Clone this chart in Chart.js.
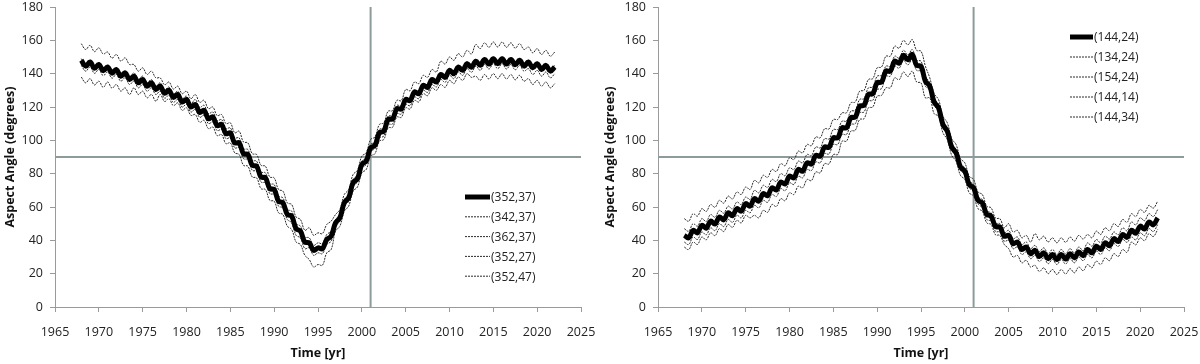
<!DOCTYPE html>
<html>
<head>
<meta charset="utf-8">
<script src="https://cdn.jsdelivr.net/npm/chart.js@4.4.1/dist/chart.umd.min.js"></script>
<style>
    html, body { margin: 0; padding: 0; background: #fff; }
    #wrap { position: relative; width: 1200px; height: 364px; }
    .panel { position: absolute; top: 0; width: 600px; height: 364px; }
</style>
</head>
<body>
<div id="wrap">
    <div class="panel" style="left:0"><canvas id="leftChart" width="600" height="364"></canvas></div>
    <div class="panel" style="left:600px"><canvas id="rightChart" width="600" height="364"></canvas></div>
</div>
<script>
// --- data (half-year samples, 1968 - 2022) ---
const years = [
    1968, 1968.5, 1969, 1969.5, 1970, 1970.5, 1971, 1971.5, 1972, 1972.5,
    1973, 1973.5, 1974, 1974.5, 1975, 1975.5, 1976, 1976.5, 1977, 1977.5,
    1978, 1978.5, 1979, 1979.5, 1980, 1980.5, 1981, 1981.5, 1982, 1982.5,
    1983, 1983.5, 1984, 1984.5, 1985, 1985.5, 1986, 1986.5, 1987, 1987.5,
    1988, 1988.5, 1989, 1989.5, 1990, 1990.5, 1991, 1991.5, 1992, 1992.5,
    1993, 1993.5, 1994, 1994.5, 1995, 1995.5, 1996, 1996.5, 1997, 1997.5,
    1998, 1998.5, 1999, 1999.5, 2000, 2000.5, 2001, 2001.5, 2002, 2002.5,
    2003, 2003.5, 2004, 2004.5, 2005, 2005.5, 2006, 2006.5, 2007, 2007.5,
    2008, 2008.5, 2009, 2009.5, 2010, 2010.5, 2011, 2011.5, 2012, 2012.5,
    2013, 2013.5, 2014, 2014.5, 2015, 2015.5, 2016, 2016.5, 2017, 2017.5,
    2018, 2018.5, 2019, 2019.5, 2020, 2020.5, 2021, 2021.5, 2022
];

// left panel
const left352_37 = [
    148, 144.5, 147, 143.2, 145.5, 141.8, 144, 140.3, 142.5, 138.5,
    140.5, 136.5, 138.5, 134.5, 136.5, 132.5, 134.5, 130.5, 132.5, 128.3,
    130, 125.8, 127.5, 123, 124.5, 120, 121.5, 116.8, 118, 113,
    114, 108.8, 109.5, 104, 104.5, 98.5, 98.5, 92, 91.5, 85,
    84.5, 78, 77.5, 71, 70.5, 63.5, 62.5, 55.5, 54.5, 47,
    45.5, 39, 38.5, 34, 35.5, 35, 40.5, 42.5, 50.5, 53.5,
    62.5, 65.5, 74.5, 77, 85.5, 87.5, 95.5, 97, 104.5, 105.5,
    112.5, 112.8, 119, 118.8, 124.5, 123.8, 129, 128, 133, 131.8,
    136.5, 135, 139.5, 137.8, 142, 140, 144, 142, 146, 143.8,
    147.5, 145, 148.5, 145.8, 149, 146, 149, 145.8, 148.5, 145.3,
    148, 144.5, 147, 143.5, 146, 142.5, 145, 141.5, 144
];
const left342_37 = [
    149, 145.5, 148, 144.2, 146.5, 142.8, 145, 141.3, 143.5, 139.5,
    141.5, 137.5, 140.5, 136.5, 138.5, 134.5, 136.5, 132.5, 134.5, 130.3,
    132, 127.8, 129.5, 125, 126.5, 122, 124.5, 119.8, 121, 116,
    117, 111.8, 112.5, 107, 107.5, 101.5, 101.5, 95, 94.5, 88,
    87.5, 81, 80.5, 74, 73.5, 66.5, 65.5, 58.5, 57.5, 50,
    48.5, 42, 41.5, 37, 38.5, 38, 43.5, 45.5, 52.5, 55.5,
    64.5, 67.5, 76.5, 79, 87.5, 89.5, 97.5, 99, 106.5, 107.5,
    114.5, 114.8, 121, 120.8, 125.5, 124.8, 130, 129, 134, 132.8,
    137.5, 136, 140.5, 138.8, 143, 141, 145, 143, 147, 144.8,
    148.5, 146, 149.5, 146.8, 150, 147, 150, 146.8, 149.5, 146.3,
    149, 145.5, 148, 144.5, 147, 143.5, 146, 142.5, 145
];
const left362_37 = [
    145, 141.5, 144, 140.2, 142.5, 138.8, 141, 137.3, 139.5, 135.5,
    137.5, 133.5, 135.5, 131.5, 133.5, 129.5, 131.5, 127.5, 129.5, 125.3,
    127, 122.8, 124.5, 120, 121.5, 117, 118.5, 113.8, 115, 110,
    111, 105.8, 106.5, 101, 101.5, 95.5, 95.5, 89, 88.5, 82,
    81.5, 75, 74.5, 68, 67.5, 60.5, 59.5, 52.5, 50.5, 43,
    41.5, 35, 35.5, 31, 32.5, 32, 37.5, 39.5, 48.5, 51.5,
    60.5, 63.5, 72.5, 75, 83.5, 85.5, 93.5, 95, 101.5, 102.5,
    109.5, 109.8, 116, 115.8, 121.5, 120.8, 126, 125, 130, 128.8,
    133.5, 132, 136.5, 134.8, 139, 137, 141, 139, 143, 140.8,
    144.5, 142, 145.5, 142.8, 146, 143, 146, 142.8, 145.5, 142.3,
    145, 141.5, 143, 139.5, 142, 138.5, 141, 137.5, 140
];
const left352_27 = [
    138, 134.5, 137, 133.2, 135.5, 131.8, 135, 131.3, 133.5, 129.5,
    131.5, 127.5, 131.5, 127.5, 129.5, 125.5, 127.5, 123.5, 127.5, 123.3,
    125, 120.8, 122.5, 118, 119.5, 115, 115.5, 110.8, 112, 107,
    108, 102.8, 103.5, 98, 98.5, 92.5, 91.5, 85, 84.5, 78,
    77.5, 71, 70.5, 64, 63.5, 56.5, 55.5, 48.5, 46.5, 39,
    37.5, 31, 28.5, 24, 25.5, 25, 32.5, 34.5, 45.5, 48.5,
    57.5, 60.5, 69.5, 72, 80.5, 82.5, 90.5, 92, 99.5, 100.5,
    107.5, 107.8, 114, 113.8, 119.5, 118.8, 124, 123, 128, 126.8,
    131.5, 130, 133.5, 131.8, 136, 134, 138, 136, 140, 137.8,
    138.5, 136, 139.5, 136.8, 140, 137, 140, 136.8, 139.5, 136.3,
    139, 135.5, 137, 133.5, 136, 132.5, 135, 131.5, 134
];
const left352_47 = [
    158, 154.5, 157, 153.2, 155.5, 151.8, 153, 149.3, 151.5, 147.5,
    149.5, 145.5, 145.5, 141.5, 143.5, 139.5, 141.5, 137.5, 137.5, 133.3,
    135, 130.8, 132.5, 128, 129.5, 125, 127.5, 122.8, 124, 119,
    120, 114.8, 115.5, 110, 110.5, 104.5, 105.5, 99, 98.5, 92,
    91.5, 85, 84.5, 78, 77.5, 70.5, 69.5, 62.5, 61.5, 54,
    52.5, 46, 47.5, 43, 44.5, 44, 49.5, 51.5, 55.5, 58.5,
    67.5, 70.5, 79.5, 82, 90.5, 92.5, 100.5, 102, 109.5, 110.5,
    117.5, 117.8, 124, 123.8, 130.5, 129.8, 135, 134, 139, 137.8,
    142.5, 141, 147.5, 145.8, 150, 148, 152, 150, 154, 151.8,
    157.5, 155, 158.5, 155.8, 159, 156, 159, 155.8, 158.5, 155.3,
    158, 154.5, 156, 152.5, 155, 151.5, 154, 150.5, 153
];

// right panel
const right144_24 = [
    43, 41.5, 46, 44.5, 49, 47.3, 51.5, 49.8, 54, 52.3,
    56.5, 54.8, 59, 57.5, 62, 60.5, 65, 63.5, 68, 66.8,
    71.5, 70.3, 75, 73.8, 78.5, 77.5, 82.5, 81.5, 86.5, 85.8,
    91, 90.5, 96, 95.8, 101.5, 101.5, 107.5, 107.5, 113.5, 114,
    120.5, 121, 127.5, 128, 134.5, 135, 141.5, 141.5, 147.5, 146.3,
    151, 148.3, 151.5, 145, 144.5, 135.5, 132.5, 123, 119.5, 109.5,
    105.5, 96, 92.5, 84, 81.5, 73.5, 71.5, 64, 62.5, 55.5,
    54.5, 48.3, 48, 42.5, 43, 38, 39, 34.5, 36, 32,
    34, 30.3, 32.5, 29, 31.5, 28.5, 31.5, 28.8, 32, 29.5,
    33, 30.8, 34.5, 32.5, 36.5, 34.5, 38.5, 36.8, 41, 39.3,
    43.5, 41.8, 46, 44.3, 48.5, 46.8, 51, 49.3, 53.5
];
const right134_24 = [
    47, 45.5, 50, 48.5, 53, 51.3, 55.5, 53.8, 58, 56.3,
    60.5, 58.8, 63, 61.5, 66, 64.5, 70, 68.5, 73, 71.8,
    76.5, 75.3, 80, 78.8, 83.5, 82.5, 87.5, 86.5, 91.5, 90.8,
    96, 95.5, 101, 100.8, 106.5, 106.5, 111.5, 111.5, 117.5, 118,
    124.5, 125, 131.5, 132, 138.5, 139, 144.5, 144.5, 150.5, 149.3,
    154, 151.3, 154.5, 148, 147.5, 138.5, 134.5, 125, 121.5, 111.5,
    107.5, 98, 94.5, 86, 83.5, 75.5, 73.5, 66, 64.5, 57.5,
    56.5, 50.3, 50, 44.5, 46, 41, 42, 37.5, 39, 35,
    37, 33.3, 35.5, 32, 34.5, 31.5, 34.5, 31.8, 35, 32.5,
    36, 33.8, 38.5, 36.5, 40.5, 38.5, 42.5, 40.8, 45, 43.3,
    47.5, 45.8, 51, 49.3, 53.5, 51.8, 56, 54.3, 58.5
];
const right154_24 = [
    39, 37.5, 42, 40.5, 45, 43.3, 47.5, 45.8, 50, 48.3,
    52.5, 50.8, 55, 53.5, 58, 56.5, 61, 59.5, 64, 62.8,
    67.5, 66.3, 71, 69.8, 74.5, 73.5, 78.5, 77.5, 82.5, 81.8,
    87, 86.5, 92, 91.8, 97.5, 97.5, 103.5, 103.5, 109.5, 110,
    116.5, 117, 123.5, 124, 130.5, 131, 138.5, 138.5, 144.5, 143.3,
    148, 145.3, 148.5, 142, 141.5, 132.5, 130.5, 121, 117.5, 107.5,
    103.5, 94, 90.5, 82, 79.5, 71.5, 69.5, 62, 59.5, 52.5,
    51.5, 45.3, 45, 39.5, 40, 35, 36, 31.5, 33, 29,
    31, 27.3, 29.5, 26, 28.5, 25.5, 28.5, 25.8, 29, 26.5,
    30, 27.8, 31.5, 29.5, 33.5, 31.5, 35.5, 33.8, 38, 36.3,
    40.5, 38.8, 42, 40.3, 44.5, 42.8, 47, 45.3, 49.5
];
const right144_14 = [
    36, 34.5, 39, 37.5, 42, 40.3, 44.5, 42.8, 47, 45.3,
    49.5, 47.8, 52, 50.5, 55, 53.5, 55, 53.5, 58, 56.8,
    61.5, 60.3, 65, 63.8, 68.5, 67.5, 72.5, 71.5, 76.5, 75.8,
    81, 80.5, 86, 85.8, 91.5, 91.5, 99.5, 99.5, 105.5, 106,
    112.5, 113, 119.5, 120, 126.5, 127, 131.5, 131.5, 137.5, 136.3,
    141, 138.3, 141.5, 135, 134.5, 125.5, 125.5, 116, 114.5, 104.5,
    100.5, 91, 87.5, 79, 76.5, 68.5, 66.5, 59, 57.5, 50.5,
    49.5, 43.3, 43, 37.5, 35, 30, 31, 26.5, 28, 24,
    25, 21.3, 23.5, 20, 22.5, 19.5, 22.5, 19.8, 23, 20.5,
    24, 21.8, 25.5, 23.5, 27.5, 25.5, 29.5, 27.8, 32, 30.3,
    34.5, 32.8, 39, 37.3, 41.5, 39.8, 44, 42.3, 46.5
];
const right144_34 = [
    53, 51.5, 56, 54.5, 59, 57.3, 61.5, 59.8, 64, 62.3,
    66.5, 64.8, 69, 67.5, 72, 70.5, 76, 74.5, 79, 77.8,
    82.5, 81.3, 86, 84.8, 89.5, 88.5, 93.5, 92.5, 97.5, 96.8,
    102, 101.5, 107, 106.8, 112.5, 112.5, 116.5, 116.5, 122.5, 123,
    129.5, 130, 136.5, 137, 143.5, 144, 150.5, 150.5, 156.5, 155.3,
    160, 157.3, 160.5, 154, 153.5, 144.5, 137.5, 128, 124.5, 114.5,
    110.5, 101, 97.5, 89, 86.5, 78.5, 76.5, 69, 67.5, 60.5,
    59.5, 53.3, 53, 47.5, 50, 45, 46, 41.5, 43, 39,
    44, 40.3, 42.5, 39, 41.5, 38.5, 41.5, 38.8, 42, 39.5,
    43, 40.8, 43.5, 41.5, 45.5, 43.5, 47.5, 45.8, 50, 48.3,
    52.5, 50.8, 56, 54.3, 58.5, 56.8, 61, 59.3, 63.5
];

// reference lines and axes
const refLevel = 90;
const refYear = 2001;
const xTicks = { min: 1965, max: 2025, step: 5 };
const yTicks = { min: 0, max: 180, step: 20 };

const FONT = "'Open Sans', 'Liberation Sans', sans-serif";
const toPoints = (vals) => vals.map((v, i) => ({ x: years[i], y: v }));

// draws the little legend inside the plot area
const insideLegend = {
    id: 'insideLegend',
    afterDatasetsDraw(chart, args, opts) {
        const ctx = chart.ctx;
        ctx.save();
        ctx.font = `12px ${FONT}`;
        ctx.textBaseline = 'middle';
        ctx.fillStyle = '#222';
        let row = 0;
        chart.data.datasets.forEach(ds => {
            if (ds.isRef) return;
            const y = opts.y + row * opts.step;
            ctx.beginPath();
            ctx.setLineDash(ds.borderDash || []);
            ctx.lineWidth = ds.borderWidth;
            ctx.strokeStyle = ds.borderColor;
            ctx.moveTo(opts.x, y);
            ctx.lineTo(opts.x + opts.len, y);
            ctx.stroke();
            ctx.setLineDash([]);
            ctx.fillText(ds.label, opts.x + opts.len + 1, y + 1);
            row++;
        });
        ctx.restore();
    }
};

const makeChart = (id, series, cfg) => {
    const datasets = series.map((s, i) => ({
        label: s.label,
        data: toPoints(s.values),
        borderColor: i === 0 ? '#000' : '#2a2a2a',
        borderWidth: i === 0 ? 5 : 1,
        borderDash: i === 0 ? [] : [2, 1],
        pointRadius: 0,
        tension: 0.4,
        fill: false
    }));
    datasets.push({
        label: 'h', isRef: true,
        data: [{ x: xTicks.min, y: refLevel }, { x: xTicks.max, y: refLevel }],
        borderColor: '#8e9b9b', borderWidth: 2, pointRadius: 0
    });
    datasets.push({
        label: 'v', isRef: true,
        data: [{ x: refYear, y: yTicks.min }, { x: refYear, y: yTicks.max }],
        borderColor: '#8e9b9b', borderWidth: 2, pointRadius: 0
    });

    return new Chart(document.getElementById(id).getContext('2d'), {
        type: 'line',
        data: { datasets },
        plugins: [insideLegend],
        options: {
            responsive: false,
            animation: false,
            devicePixelRatio: 1,
            events: [],
            layout: { padding: { top: 7, right: cfg.padRight, left: 0, bottom: 0 } },
            plugins: {
                legend: { display: false },
                tooltip: { enabled: false },
                insideLegend: cfg.legend
            },
            scales: {
                x: {
                    type: 'linear',
                    min: xTicks.min, max: xTicks.max,
                    // fixed box so the plot area lines up with the picture
                    afterFit: (scale) => {
                        scale.height = 57;
                        scale.paddingLeft = 0;
                        scale.paddingRight = 0;
                    },
                    grid: { drawOnChartArea: false, tickLength: 5, color: '#9a9a9a' },
                    border: { color: '#9a9a9a', width: 1 },
                    ticks: {
                        stepSize: xTicks.step, padding: 13, color: '#222',
                        font: { family: FONT, size: 12.5 },
                        maxRotation: 0,
                        callback: (v) => String(v)
                    },
                    title: {
                        display: true, text: 'Time [yr]', color: '#111',
                        font: { family: FONT, size: 12.5, weight: 'bold' },
                        padding: { top: 0, bottom: 3 }
                    }
                },
                y: {
                    min: yTicks.min, max: yTicks.max,
                    afterFit: (scale) => {
                        scale.width = cfg.yWidth;
                        scale.paddingTop = 0;
                        scale.paddingBottom = 0;
                    },
                    grid: { drawOnChartArea: false, tickLength: 5, color: '#9a9a9a' },
                    border: { color: '#9a9a9a', width: 1 },
                    ticks: {
                        stepSize: yTicks.step, padding: 7, color: '#222',
                        font: { family: FONT, size: 12.5 }
                    },
                    title: {
                        display: true, text: 'Aspect Angle (degrees)', color: '#111',
                        font: { family: FONT, size: 12.5, weight: 'bold' },
                        padding: { top: 3, bottom: 0 }
                    }
                }
            }
        }
    });
};

makeChart('leftChart', [
    { label: '(352,37)', values: left352_37 },
    { label: '(342,37)', values: left342_37 },
    { label: '(362,37)', values: left362_37 },
    { label: '(352,27)', values: left352_27 },
    { label: '(352,47)', values: left352_47 }
], { yWidth: 55, padRight: 19, legend: { x: 465, y: 197, step: 19.8, len: 25 } });

makeChart('rightChart', [
    { label: '(144,24)', values: right144_24 },
    { label: '(134,24)', values: right134_24 },
    { label: '(154,24)', values: right154_24 },
    { label: '(144,14)', values: right144_14 },
    { label: '(144,34)', values: right144_34 }
], { yWidth: 58, padRight: 16, legend: { x: 470, y: 37, step: 20, len: 23 } });
</script>
</body>
</html>
